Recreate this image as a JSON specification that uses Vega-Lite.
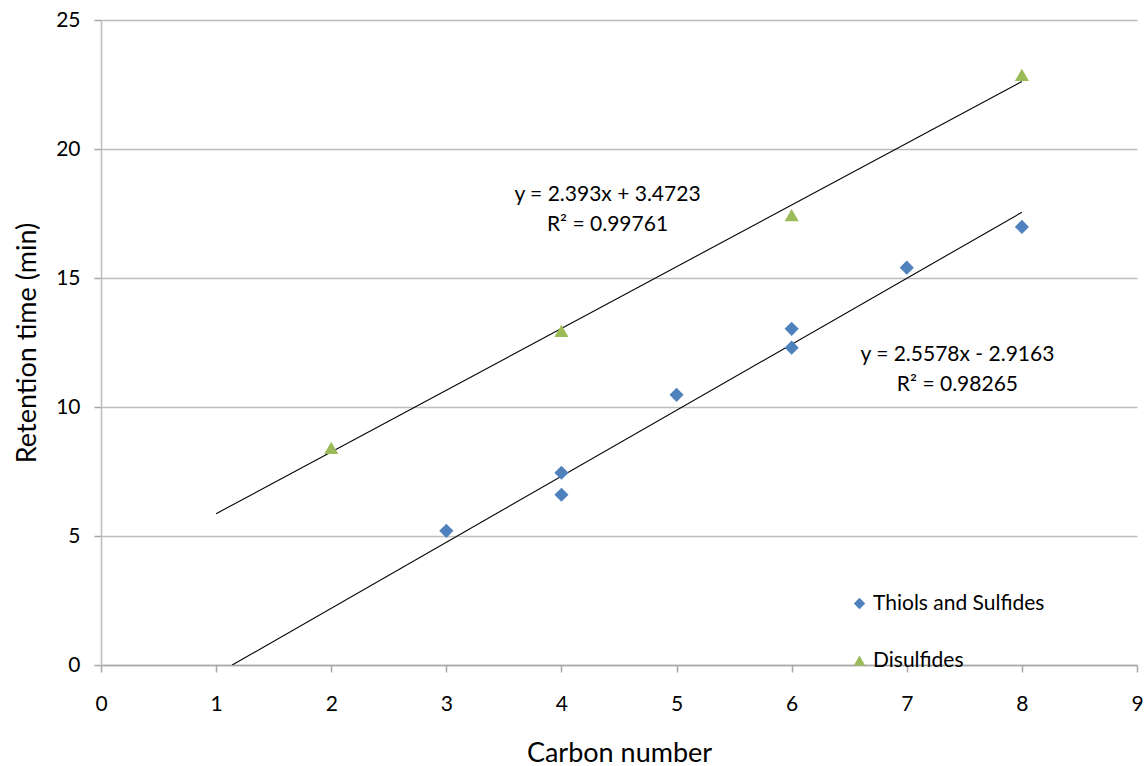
{
  "$schema": "https://vega.github.io/schema/vega-lite/v6.json",
  "width": 1036,
  "height": 645,
  "autosize": {"type": "none"},
  "padding": {"left": 101, "top": 20, "right": 11, "bottom": 101},
  "background": "white",
  "config": {
    "font": "Lato",
    "view": {"stroke": null},
    "axis": {"labelFont": "Lato", "titleFont": "Lato", "labelColor": "#000000", "titleColor": "#000000", "titleFontWeight": "normal"}
  },
  "datasets": {
    "points": [
      {"carbon": 3, "rt": 5.2, "series": "Thiols and Sulfides"},
      {"carbon": 4, "rt": 7.45, "series": "Thiols and Sulfides"},
      {"carbon": 4, "rt": 6.6, "series": "Thiols and Sulfides"},
      {"carbon": 5, "rt": 10.47, "series": "Thiols and Sulfides"},
      {"carbon": 6, "rt": 13.03, "series": "Thiols and Sulfides"},
      {"carbon": 6, "rt": 12.3, "series": "Thiols and Sulfides"},
      {"carbon": 7, "rt": 15.4, "series": "Thiols and Sulfides"},
      {"carbon": 8, "rt": 16.98, "series": "Thiols and Sulfides"},
      {"carbon": 2, "rt": 8.42, "series": "Disulfides"},
      {"carbon": 4, "rt": 12.95, "series": "Disulfides"},
      {"carbon": 6, "rt": 17.44, "series": "Disulfides"},
      {"carbon": 8, "rt": 22.87, "series": "Disulfides"}
    ],
    "trends": [
      {"carbon": 1, "rt": 5.865, "fit": "Disulfides"},
      {"carbon": 8, "rt": 22.616, "fit": "Disulfides"},
      {"carbon": 1.14, "rt": 0, "fit": "Thiols and Sulfides"},
      {"carbon": 8, "rt": 17.546, "fit": "Thiols and Sulfides"}
    ],
    "labels": [
      {"carbon": 4.4, "rt": 18.2, "text": "y = 2.393x + 3.4723"},
      {"carbon": 4.4, "rt": 17.05, "text": "R² = 0.99761"},
      {"carbon": 7.44, "rt": 12.0, "text": "y = 2.5578x - 2.9163"},
      {"carbon": 7.44, "rt": 10.85, "text": "R² = 0.98265"}
    ]
  },
  "layer": [
    {
      "data": {"name": "trends"},
      "mark": {"type": "line", "color": "#000000", "strokeWidth": 1.1, "clip": true},
      "encoding": {
        "x": {"field": "carbon", "type": "quantitative",
          "scale": {"domain": [0, 9], "nice": false},
          "axis": {"title": "Carbon number", "values": [0,1,2,3,4,5,6,7,8,9], "format": "d", "grid": false, "labelFlush": false,
            "domainColor": "#A6A6A6", "tickColor": "#A6A6A6", "tickSize": 7, "domainWidth": 1.5, "tickWidth": 1.5,
            "labelFontSize": 21, "labelPadding": 21, "titleFontSize": 27, "titlePadding": 26}},
        "y": {"field": "rt", "type": "quantitative",
          "scale": {"domain": [0, 25], "nice": false},
          "axis": {"title": "Retention time (min)", "values": [0,5,10,15,20,25], "format": "d", "grid": true, "labelFlush": false,
            "gridColor": "#BDBDBD", "gridWidth": 1.5,
            "domainColor": "#BDBDBD", "tickColor": "#A6A6A6", "tickSize": 7, "domainWidth": 1.5, "tickWidth": 1.5,
            "labelFontSize": 21, "labelPadding": 14, "titleFontSize": 27, "titlePadding": 14}},
        "detail": {"field": "fit"}
      }
    },
    {
      "data": {"name": "points"},
      "mark": {"type": "point", "filled": true, "opacity": 1},
      "encoding": {
        "x": {"field": "carbon", "type": "quantitative"},
        "y": {"field": "rt", "type": "quantitative"},
        "color": {"field": "series", "type": "nominal",
          "scale": {"domain": ["Thiols and Sulfides", "Disulfides"], "range": ["#4F81BD", "#9BBB59"]},
          "legend": {"title": null, "orient": "none", "legendX": 748, "legendY": 573,
            "labelFontSize": 21, "labelFont": "Lato", "labelColor": "#000000", "labelLimit": 0, "symbolSize": 130, "rowPadding": 35, "labelOffset": 3}},
        "shape": {"field": "series", "type": "nominal",
          "scale": {"domain": ["Thiols and Sulfides", "Disulfides"], "range": ["diamond", "triangle-up"]}},
        "size": {"value": 200}
      }
    },
    {
      "data": {"name": "labels"},
      "mark": {"type": "text", "fontSize": 21, "font": "Lato", "color": "#000000", "align": "center", "baseline": "middle"},
      "encoding": {
        "x": {"field": "carbon", "type": "quantitative"},
        "y": {"field": "rt", "type": "quantitative"},
        "text": {"field": "text"}
      }
    }
  ]
}
